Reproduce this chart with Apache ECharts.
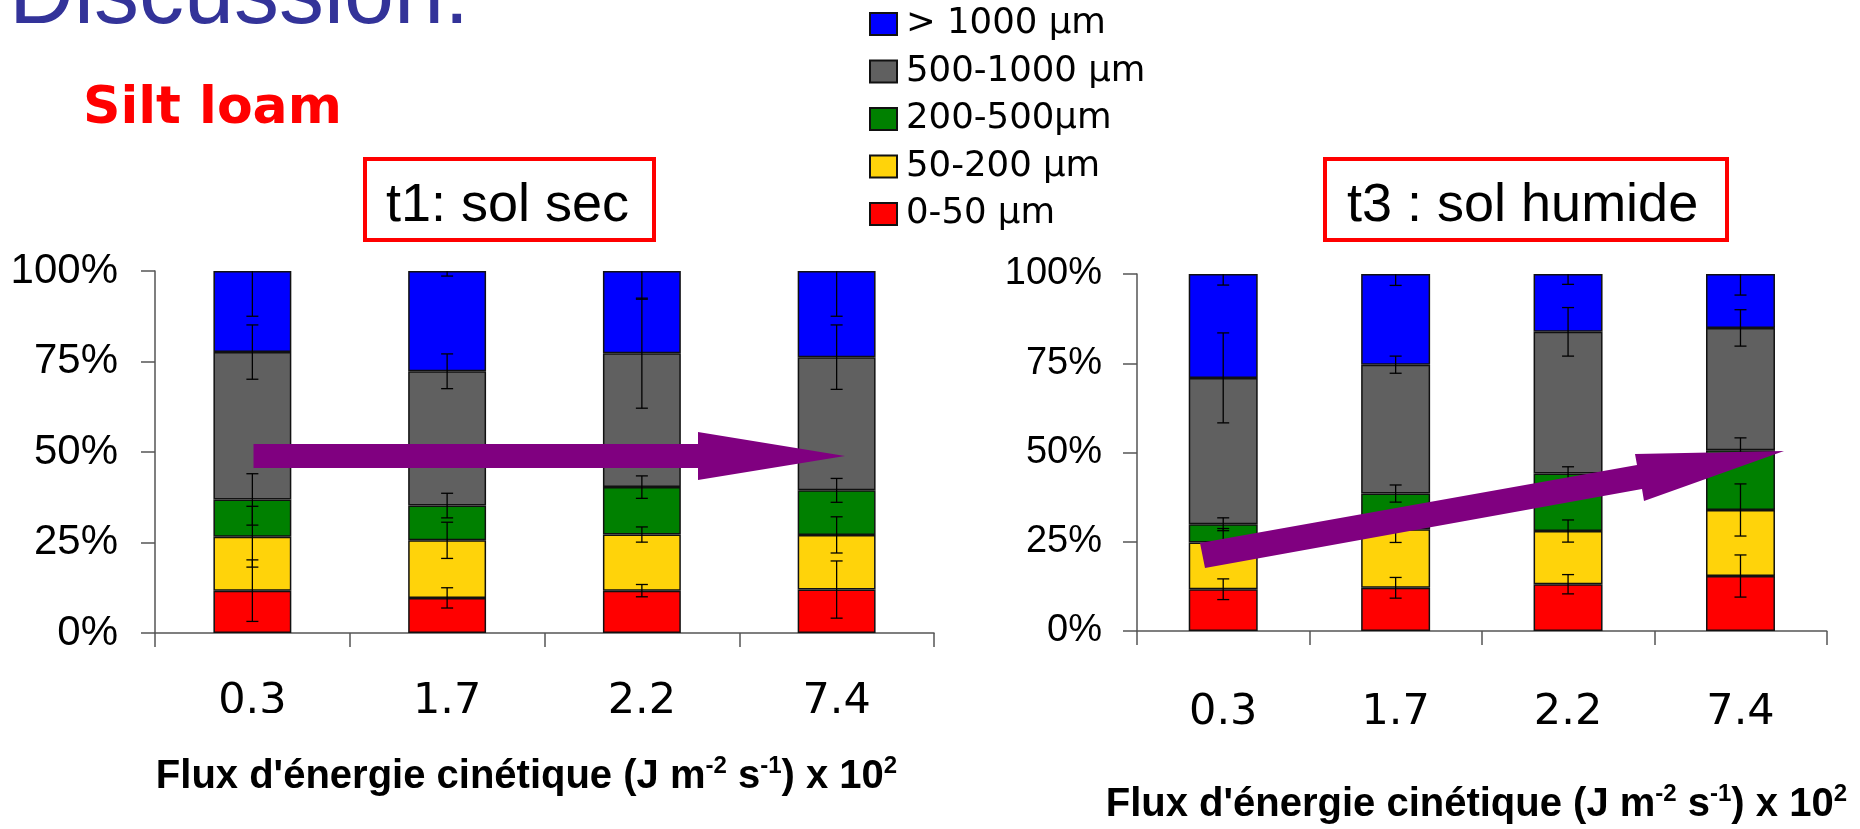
<!DOCTYPE html>
<html>
<head>
<meta charset="utf-8">
<script src="https://cdn.jsdelivr.net/npm/echarts@6/dist/echarts.min.js"></script>
<style>
html,body{margin:0;padding:0;background:#fff;}
#c{width:1860px;height:829px;}
</style>
</head>
<body>
<div id="c"></div>
<script>
// ---- data ----
const categories = ['0.3', '1.7', '2.2', '7.4'];
const sizeClasses = ['0-50 µm', '50-200 µm', '200-500µm', '500-1000 µm', '> 1000 µm'];
const classColors = ['#FF0000', '#FFD30A', '#008000', '#606060', '#0000FF'];
const legendOrder = ['> 1000 µm', '500-1000 µm', '200-500µm', '50-200 µm', '0-50 µm'];

// t1: sol sec (percent per size class, bottom to top)
const t1_0_50     = [11.7, 9.7, 11.7, 12.0];
const t1_50_200   = [14.9, 15.9, 15.5, 15.1];
const t1_200_500  = [10.3, 9.6, 13.1, 12.3];
const t1_500_1000 = [40.7, 37.1, 37.0, 36.8];
const t1_gt1000   = [22.4, 27.7, 22.7, 23.8];
// error bars (+/-) for t1
const t1_err_0_50     = [8.5, 2.8, 1.7, 7.9];
const t1_err_50_200   = [8.4, 5.0, 2.1, 5.0];
const t1_err_200_500  = [7.1, 3.4, 3.1, 3.3];
const t1_err_500_1000 = [7.5, 4.8, 15.2, 8.9];
const t1_err_gt1000   = [12.5, 1.4, 7.8, 12.5];

// t3: sol humide
const t3_0_50     = [11.7, 12.1, 13.1, 15.4];
const t3_50_200   = [13.1, 16.4, 14.9, 18.5];
const t3_200_500  = [5.1, 10.0, 16.1, 16.7];
const t3_500_1000 = [41.0, 36.1, 39.7, 34.3];
const t3_gt1000   = [29.1, 25.4, 16.2, 15.1];
// error bars (+/-) for t3
const t3_err_0_50     = [2.9, 2.9, 2.7, 5.9];
const t3_err_50_200   = [3.9, 3.7, 3.1, 7.3];
const t3_err_200_500  = [1.8, 2.4, 1.9, 3.5];
const t3_err_500_1000 = [12.6, 2.4, 6.8, 5.1];
const t3_err_gt1000   = [3.1, 3.2, 2.9, 5.9];

const yTicks = [0, 25, 50, 75, 100];

const t1Values = [t1_0_50, t1_50_200, t1_200_500, t1_500_1000, t1_gt1000];
const t1Errors = [t1_err_0_50, t1_err_50_200, t1_err_200_500, t1_err_500_1000, t1_err_gt1000];
const t3Values = [t3_0_50, t3_50_200, t3_200_500, t3_500_1000, t3_gt1000];
const t3Errors = [t3_err_0_50, t3_err_50_200, t3_err_200_500, t3_err_500_1000, t3_err_gt1000];

// ---- build ----
function errData(vals, errs) {
  const out = [];
  for (let i = 0; i < categories.length; i++) {
    let cum = 0;
    for (let s = 0; s < vals.length; s++) {
      cum += vals[s][i];
      out.push([i, cum, errs[s][i]]);
    }
  }
  return out;
}

function renderErr(params, api) {
  const x = api.value(0), top = api.value(1), e = api.value(2);
  const ymax = yTicks[yTicks.length - 1];
  const hiV = Math.min(top + e, ymax), loV = Math.max(top - e, 0);
  const pHi = api.coord([x, hiV]);
  const pLo = api.coord([x, loV]);
  const half = 6;
  const st = { stroke: '#000', lineWidth: 1.3 };
  const children = [
    { type: 'line', shape: { x1: pHi[0], y1: pHi[1], x2: pLo[0], y2: pLo[1] }, style: st },
    { type: 'line', shape: { x1: pLo[0] - half, y1: pLo[1], x2: pLo[0] + half, y2: pLo[1] }, style: st }
  ];
  if (top + e < ymax) {
    children.push({ type: 'line', shape: { x1: pHi[0] - half, y1: pHi[1], x2: pHi[0] + half, y2: pHi[1] }, style: st });
  }
  return { type: 'group', children: children };
}

const axisLineStyle = { color: '#555', width: 1.5 };

function makeXAxis(gridIndex, labelMargin, nameGap, nameSize, namePad) {
  return {
    type: 'category', gridIndex: gridIndex, data: categories,
    axisLine: { show: true, lineStyle: axisLineStyle },
    axisTick: { show: true, length: 14, inside: false, lineStyle: axisLineStyle },
    axisLabel: { fontSize: 43, fontFamily: 'DejaVu Sans', color: '#000', margin: labelMargin, lineHeight: 43 },
    name: "Flux d'énergie cinétique (J m{s|-2} s{s|-1}) x 10{s|2}",
    nameLocation: 'middle', nameGap: nameGap,
    nameTextStyle: {
      fontSize: nameSize, fontWeight: 'bold', fontFamily: 'Liberation Sans', color: '#000',
      lineHeight: 46, padding: namePad,
      rich: { s: { fontSize: Math.round(nameSize * 0.6), fontWeight: 'bold', fontFamily: 'Liberation Sans', color: '#000', lineHeight: 20, verticalAlign: 'top' } }
    }
  };
}
function makeYAxis(gridIndex, labelSize, labelMargin) {
  return {
    type: 'value', gridIndex: gridIndex, min: 0, max: 100, interval: 25,
    axisLine: { show: true, lineStyle: axisLineStyle },
    axisTick: { show: true, length: 14, inside: false, lineStyle: axisLineStyle },
    splitLine: { show: false },
    axisLabel: { formatter: '{value}%', fontSize: labelSize, fontFamily: 'Liberation Sans', color: '#000', margin: labelMargin }
  };
}

const series = [];
[[t1Values, 0, 'L'], [t3Values, 1, 'R']].forEach(function (cfg) {
  const vals = cfg[0], gi = cfg[1], stack = cfg[2];
  vals.forEach(function (arr, s) {
    series.push({
      type: 'bar', name: sizeClasses[s], stack: stack,
      xAxisIndex: gi, yAxisIndex: gi, data: arr, barWidth: '40%',
      itemStyle: { color: classColors[s], borderColor: '#111', borderWidth: 1.5 },
      emphasis: { disabled: true }
    });
  });
});
series.push({ type: 'custom', xAxisIndex: 0, yAxisIndex: 0, renderItem: renderErr, data: errData(t1Values, t1Errors), z: 5, silent: true });
series.push({ type: 'custom', xAxisIndex: 1, yAxisIndex: 1, renderItem: renderErr, data: errData(t3Values, t3Errors), z: 5, silent: true });

const purple = '#800080';
const option = {
  animation: false,
  backgroundColor: '#fff',
  grid: [
    { left: 155, top: 271, width: 779, height: 362 },
    { left: 1137, top: 274, width: 697, height: 358 }
  ],
  xAxis: [makeXAxis(0, 47, 121, 40, [0, 36, 0, 0]), makeXAxis(1, 60, 151, 40, [0, 11, 0, 0])],
  yAxis: [makeYAxis(0, 42, 37), makeYAxis(1, 38, 35)],
  legend: {
    orient: 'vertical', left: 869, top: 6, padding: 0,
    data: legendOrder,
    itemWidth: 27, itemHeight: 22, itemGap: 11.5,
    icon: 'rect',
    selectedMode: false,
    textStyle: { fontSize: 35.5, fontFamily: 'DejaVu Sans', color: '#000', lineHeight: 24, padding: [0, 0, 0, 4] }
  },
  series: series,
  graphic: [
    { type: 'text', z: 100, x: 9, y: -2, style: { text: 'Discussion:', font: '90px "Liberation Sans"', fill: '#333399', textAlign: 'left', textVerticalAlign: 'middle' } },
    { type: 'text', z: 100, x: 83, y: 109, style: { text: 'Silt loam', font: 'bold 52px "DejaVu Sans"', fill: '#FF0000', textAlign: 'left', textVerticalAlign: 'middle' } },
    { type: 'rect', z: 100, shape: { x: 365, y: 159, width: 289, height: 81 }, style: { fill: '#fff', stroke: '#FF0000', lineWidth: 4 } },
    { type: 'text', z: 101, x: 386, y: 206, style: { text: 't1: sol sec', font: '54px "Liberation Sans"', fill: '#000', textAlign: 'left', textVerticalAlign: 'middle' } },
    { type: 'rect', z: 100, shape: { x: 1325, y: 159, width: 402, height: 81 }, style: { fill: '#fff', stroke: '#FF0000', lineWidth: 4 } },
    { type: 'text', z: 101, x: 1347, y: 206, style: { text: 't3 : sol humide', font: '54px "Liberation Sans"', fill: '#000', textAlign: 'left', textVerticalAlign: 'middle' } },
    // clipping band under the left tick labels
    { type: 'rect', z: 100, shape: { x: 140, y: 713, width: 810, height: 38 }, style: { fill: '#fff' } },
    // arrows (annotations)
    { type: 'polygon', z: 110, shape: { points: [[253.5, 444], [698, 444], [698, 432], [845, 456], [698, 480], [698, 468], [253.5, 468]] }, style: { fill: purple } },
    { type: 'polygon', z: 110, shape: { points: [[1200, 543], [1637, 465], [1635, 454], [1784, 451], [1644, 501], [1642, 489], [1205, 568]] }, style: { fill: purple } }
  ]
};

const chart = echarts.init(document.getElementById('c'), null, { renderer: 'canvas' });
chart.setOption(option);
</script>
</body>
</html>
